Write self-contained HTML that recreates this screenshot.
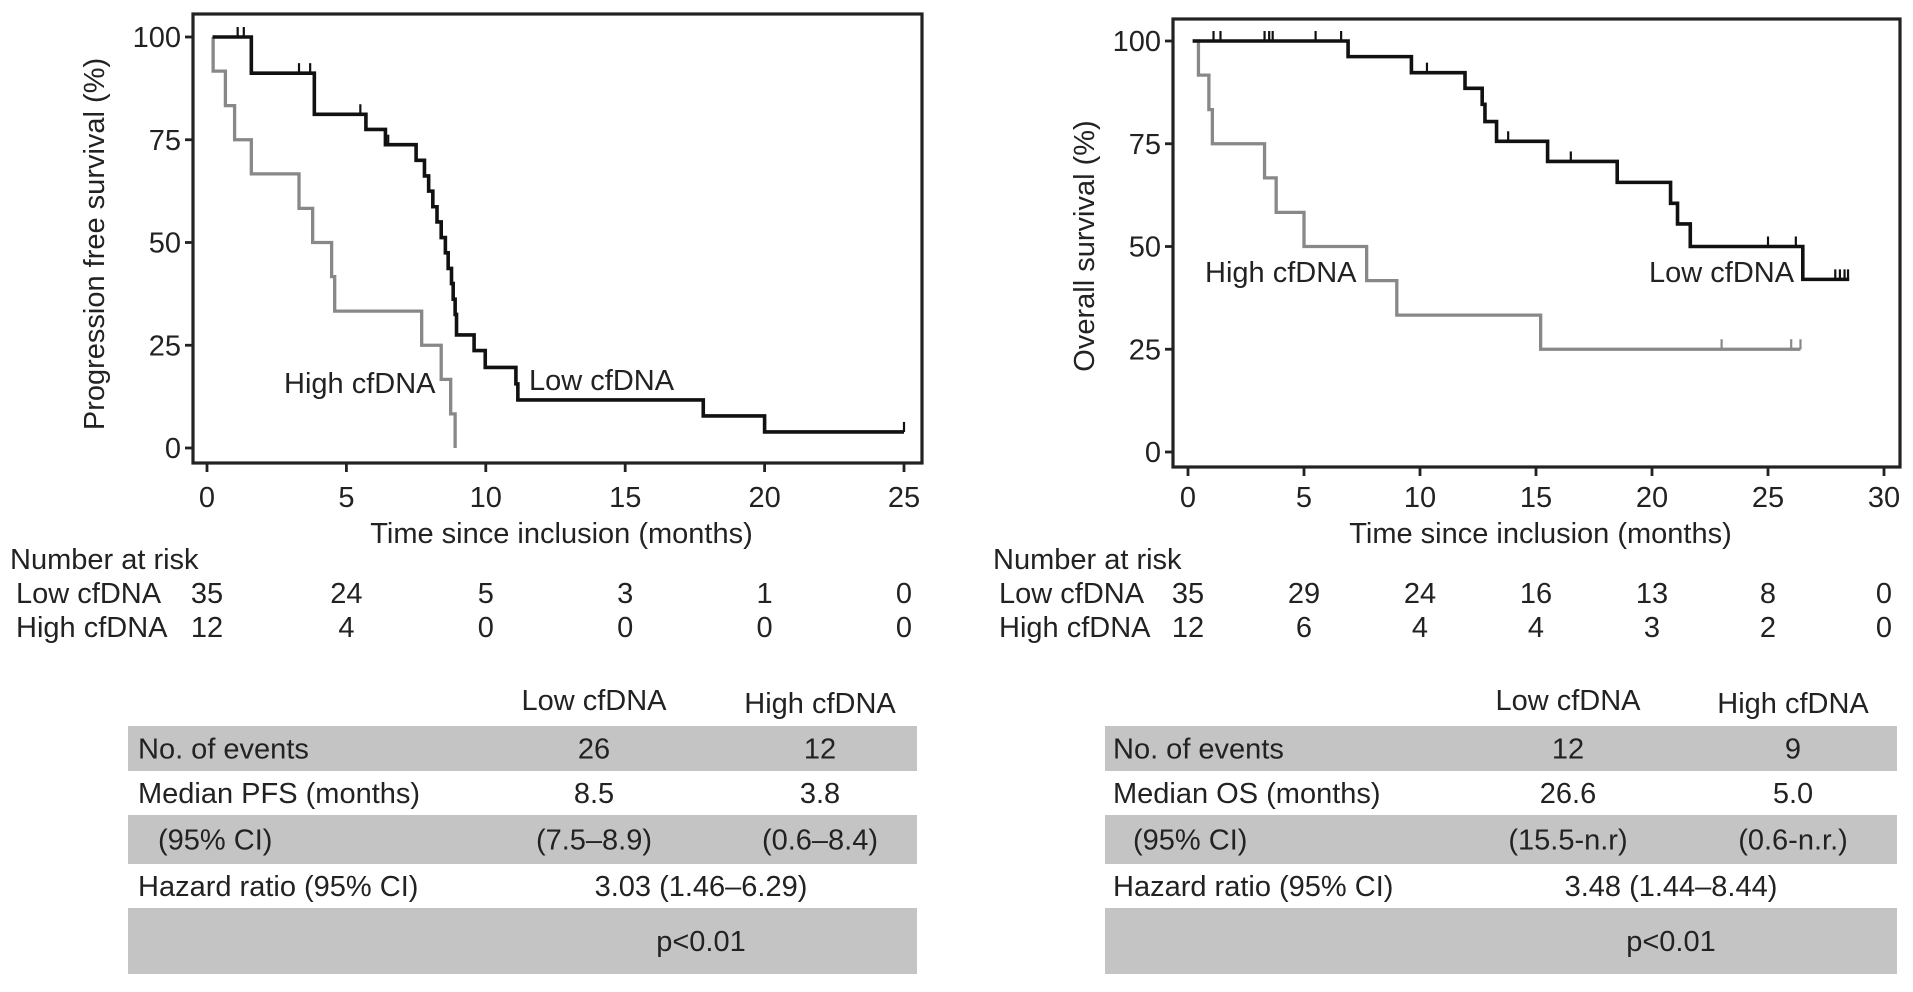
<!DOCTYPE html>
<html><head><meta charset="utf-8">
<style>
html,body{margin:0;padding:0;background:#fff;}
body{width:1913px;height:987px;overflow:hidden;position:relative;font-family:"Liberation Sans",Arial,sans-serif;}
svg text{font-family:"Liberation Sans",Arial,sans-serif;}
</style></head>
<body>
<svg id="fig" width="1913" height="987" viewBox="0 0 1913 987" xmlns="http://www.w3.org/2000/svg">
<g id="pfs"></g>
<g id="os"></g>
<g id="risk"></g>
<g id="tables"></g>
</svg>
<script>
// ---- PFS data ----
const pfsLowT = [0.2,1.59,3.85,5.7,6.4,7.5,7.8,7.95,8.1,8.25,8.4,8.55,8.65,8.77,8.83,8.9,8.95,9.58,9.98,11.08,11.15,17.8,20.0,25.0];
const pfsLowS = [100,91.2,81.2,77.5,73.8,70,66.2,62.5,58.7,55,51.2,47.5,43.7,40,36.2,32.5,27.5,23.7,19.6,15.6,11.7,7.8,3.9,3.9];
const pfsLowCens = [[1.1,100],[1.32,100],[3.3,91.2],[3.7,91.2],[5.5,81.2],[6.5,73.8],[25.0,3.9]];
const pfsHighT = [0.2,0.22,0.66,0.99,1.59,3.3,3.79,4.47,4.58,7.7,8.4,8.74,8.9];
const pfsHighS = [100,91.7,83.3,75,66.7,58.3,50,41.7,33.3,25,16.7,8.3,0];
const pfsXTicks = [0,5,10,15,20,25];
const yTicks = [0,25,50,75,100];
const pfsRiskLow = [35,24,5,3,1,0];
const pfsRiskHigh = [12,4,0,0,0,0];
// ---- OS data ----
const osLowT = [0.2,6.9,9.63,11.94,12.68,12.8,13.3,15.5,18.5,20.8,21.1,21.65,26.5,28.5];
const osLowS = [100,96.2,92.3,88.5,84.6,80.4,75.6,70.7,65.6,60.5,55.5,50,42,42];
const osLowCens = [[1.1,100],[1.4,100],[3.3,100],[3.5,100],[3.65,100],[5.5,100],[6.6,100],[10.3,92.3],[13.8,75.6],[16.5,70.7],[25.0,50],[26.2,50],[27.9,42],[28.1,42],[28.3,42],[28.45,42]];
const osHighT = [0.2,0.45,0.9,1.05,3.3,3.8,5.0,7.7,9.0,15.2,26.4];
const osHighS = [100,91.7,83.3,75,66.7,58.3,50,41.7,33.3,25,25];
const osHighCens = [[23.0,25],[26.0,25],[26.4,25]];
const osXTicks = [0,5,10,15,20,25,30];
const osRiskLow = [35,29,24,16,13,8,0];
const osRiskHigh = [12,6,4,4,3,2,0];

const FS=29;
const NS="http://www.w3.org/2000/svg";
function mk(parent,tag,attrs,text){const e=document.createElementNS(NS,tag);for(const k in attrs)e.setAttribute(k,attrs[k]);if(text!==undefined)e.textContent=text;parent.appendChild(e);return e;}

function drawChart(g,cfg){
  const sx=v=>cfg.x0+(v-cfg.xmin)/(cfg.xmax-cfg.xmin)*(cfg.x1-cfg.x0);
  const sy=v=>cfg.y0+(v/100)*(cfg.y100-cfg.y0);
  const fr=mk(g,'rect',{x:cfg.fl,y:cfg.ft,width:cfg.fr-cfg.fl,height:cfg.fb-cfg.ft,fill:'none',stroke:'#222','stroke-width':3.2});
  
  
  cfg.yTicks.forEach(t=>{
    const l=mk(g,'line',{x1:cfg.fl-8,x2:cfg.fl,y1:sy(t),y2:sy(t),stroke:'#222','stroke-width':2.8});
    
    
    const tx=mk(g,'text',{x:cfg.fl-12,y:sy(t)+10,'text-anchor':'end','font-size':FS,fill:'#222'},t);
    
    
  });
  cfg.xTicks.forEach(t=>{
    const l=mk(g,'line',{x1:sx(t),x2:sx(t),y1:cfg.fb,y2:cfg.fb+9,stroke:'#222','stroke-width':2.8});
    
    
    const tx=mk(g,'text',{x:sx(t),y:507,'text-anchor':'middle','font-size':FS,fill:'#222'},t);
    
    
  });
  const xt=mk(g,'text',{x:(cfg.fl+cfg.fr)/2+4,y:543,'text-anchor':'middle','font-size':FS,fill:'#222'},'Time since inclusion (months)');
  
  
  const yt=mk(g,'text',{x:0,y:0,'text-anchor':'middle','font-size':FS,fill:'#222',transform:`translate(${cfg.ytx},${cfg.yty}) rotate(-90)`},cfg.ytitle);
  
  
  function step(T,S,color,w,name,cens){
    let d=`M${sx(T[0])},${sy(S[0])}`;
    for(let i=1;i<T.length;i++){d+=` H${sx(T[i])} V${sy(S[i])}`;}
    const p=mk(g,'path',{d:d,fill:'none',stroke:color,'stroke-width':w,'stroke-linejoin':'miter'});
    
    
    (cens||[]).forEach(c=>{
      const l=mk(g,'line',{x1:sx(c[0]),x2:sx(c[0]),y1:sy(c[1]),y2:sy(c[1])-10,stroke:color,'stroke-width':2.2});
      
      
    });
  }
  step(cfg.hT,cfg.hS,'#888',3.3,'high-cfdna-curve',cfg.hC);
  step(cfg.lT,cfg.lS,'#111',3.6,'low-cfdna-curve',cfg.lC);
  cfg.labels.forEach(L=>{
    const t=mk(g,'text',{x:L[0],y:L[1],'font-size':FS,fill:'#222'},L[2]);
    
    
  });
  return sx;
}

const sxP=drawChart(document.getElementById('pfs'),{fl:193,fr:922,ft:14,fb:463,x0:207,x1:904,xmin:0,xmax:25,y0:448,y100:37,
  xTicks:pfsXTicks,yTicks:yTicks,ytitle:'Progression free survival (%)',ytx:104,yty:244,
  lT:pfsLowT,lS:pfsLowS,lC:pfsLowCens,hT:pfsHighT,hS:pfsHighS,hC:[],
  labels:[[284,393,'High cfDNA','high-cfdna-label'],[529,390,'Low cfDNA','low-cfdna-label']]});
const sxO=drawChart(document.getElementById('os'),{fl:1173,fr:1900,ft:19,fb:467,x0:1188,x1:1884,xmin:0,xmax:30,y0:452,y100:41,
  xTicks:osXTicks,yTicks:yTicks,ytitle:'Overall survival (%)',ytx:1094,yty:246,
  lT:osLowT,lS:osLowS,lC:osLowCens,hT:osHighT,hS:osHighS,hC:osHighCens,
  labels:[[1205,282,'High cfDNA','high-cfdna-label'],[1649,282,'Low cfDNA','low-cfdna-label']]});

// number at risk
const risk=document.getElementById('risk');
function riskBlock(x0,sx,ticks,low,high){
  const h=mk(risk,'text',{x:x0,y:569,'font-size':FS,fill:'#222'},'Number at risk');
  
  
  const a=mk(risk,'text',{x:x0+6,y:603,'font-size':FS,fill:'#222'},'Low cfDNA');
  
  
  const b=mk(risk,'text',{x:x0+6,y:637,'font-size':FS,fill:'#222'},'High cfDNA');
  
  
  ticks.forEach((t,i)=>{
    const u=mk(risk,'text',{x:sx(t),y:603,'text-anchor':'middle','font-size':FS,fill:'#222'},low[i]);
    
    
    const v=mk(risk,'text',{x:sx(t),y:637,'text-anchor':'middle','font-size':FS,fill:'#222'},high[i]);
    
    
  });
}
riskBlock(10,sxP,pfsXTicks,pfsRiskLow,pfsRiskHigh);
riskBlock(993,sxO,osXTicks,osRiskLow,osRiskHigh);

// tables
const tb=document.getElementById('tables');
const rowsY=[[726,771,true],[771,815,false],[815,864,true],[864,908,false],[908,974,true]];
function table(x0,x1,lx,cl,ch,chr,rows){
  const h1=mk(tb,'text',{x:cl,y:710,'text-anchor':'middle','font-size':FS,fill:'#222'},'Low cfDNA');
  
  
  const h2=mk(tb,'text',{x:ch,y:713,'text-anchor':'middle','font-size':FS,fill:'#222'},'High cfDNA');
  
  
  rowsY.forEach((r,i)=>{
    if(r[2]){const bg=mk(tb,'rect',{x:x0,y:r[0],width:x1-x0,height:r[1]-r[0],fill:'#c4c4c4'});
      
      }
    const cy=(r[0]+r[1])/2+10;
    const R=rows[i];
    if(R[0]){const t=mk(tb,'text',{x:lx+(i==2?20:0),y:cy,'font-size':FS,fill:'#222'},R[0]);
      
      }
    if(R.length==3){
      const a=mk(tb,'text',{x:cl,y:cy,'text-anchor':'middle','font-size':FS,fill:'#222'},R[1]);
      
      
      const b=mk(tb,'text',{x:ch,y:cy,'text-anchor':'middle','font-size':FS,fill:'#222'},R[2]);
      
      
    } else {
      const a=mk(tb,'text',{x:chr,y:cy,'text-anchor':'middle','font-size':FS,fill:'#222'},R[1]);
      
      
    }
  });
}
table(128,917,138,594,820,701,[['No. of events','26','12'],['Median PFS (months)','8.5','3.8'],['(95% CI)','(7.5–8.9)','(0.6–8.4)'],['Hazard ratio (95% CI)','3.03 (1.46–6.29)'],['','p<0.01']]);
table(1105,1897,1113,1568,1793,1671,[['No. of events','12','9'],['Median OS (months)','26.6','5.0'],['(95% CI)','(15.5-n.r)','(0.6-n.r.)'],['Hazard ratio (95% CI)','3.48 (1.44–8.44)'],['','p<0.01']]);
</script>
</body></html>
